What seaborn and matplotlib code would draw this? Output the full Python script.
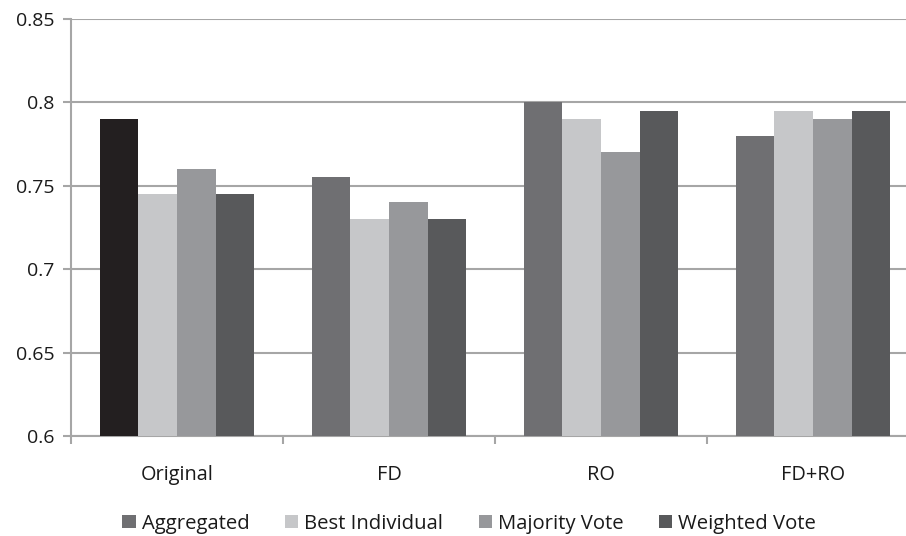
import matplotlib
matplotlib.use("Agg")
import matplotlib.pyplot as plt
from matplotlib.patches import Patch
import seaborn as sns
import pandas as pd

categories = ["Original", "FD", "RO", "FD+RO"]
series = ["Aggregated", "Best Individual", "Majority Vote", "Weighted Vote"]
aggregated = [0.79, 0.755, 0.80, 0.78]
best_individual = [0.745, 0.73, 0.79, 0.795]
majority_vote = [0.76, 0.74, 0.77, 0.79]
weighted_vote = [0.745, 0.73, 0.795, 0.795]
y_ticks = [0.6, 0.65, 0.7, 0.75, 0.8, 0.85]
y_tick_labels = ["0.6", "0.65", "0.7", "0.75", "0.8", "0.85"]

colors = ["#6f6f72", "#c6c7c9", "#97989b", "#58595b"]
highlight = "#231f20"

rows = []
for name, vals in zip(series, [aggregated, best_individual, majority_vote, weighted_vote]):
    for cat, v in zip(categories, vals):
        rows.append({"Method": cat, "Series": name, "Value": v})
df = pd.DataFrame(rows)

sns.set_theme(style="white")
plt.rcParams["font.family"] = ["Open Sans", "DejaVu Sans"]

fig = plt.figure(figsize=(9.06, 5.36), dpi=100)
W, H = 906, 536
left, right, top, bottom = 71, 919, 19, 436
ax = fig.add_axes([left / W, 1 - bottom / H, (right - left) / W, (bottom - top) / H])

sns.barplot(data=df, x="Method", y="Value", hue="Series", order=categories,
            hue_order=series, palette=colors, width=0.727, saturation=1,
            linewidth=0, ax=ax, legend=False, zorder=3)

# first Aggregated bar is drawn in a darker shade
ax.containers[0].patches[0].set_facecolor(highlight)

ax.set_ylim(0.6, 0.85)
ax.set_xlim(-0.5, 3.5)
ax.set_yticks(y_ticks)
ax.set_yticklabels(y_tick_labels)
ax.yaxis.grid(True, color="#a6a6a6", linewidth=1.5, zorder=0)
ax.set_axisbelow(True)
ax.set_xlabel("")
ax.set_ylabel("")

for s in ["top", "right"]:
    ax.spines[s].set_visible(False)
for s in ["left", "bottom"]:
    ax.spines[s].set_color("#a6a6a6")
    ax.spines[s].set_linewidth(1.5)

ax.set_xticks([0, 1, 2, 3])
ax.set_xticklabels(categories)
ax.set_xticks([-0.5, 0.5, 1.5, 2.5, 3.5], minor=True)
ax.tick_params(axis="x", which="major", length=0, pad=21, labelsize=14.3, labelcolor="#1a1a1a")
ax.tick_params(axis="x", which="minor", length=6, width=1.5, color="#a6a6a6", direction="out", bottom=True)
ax.tick_params(axis="y", length=6, width=1.5, color="#a6a6a6", direction="out", left=True,
               labelsize=14, labelcolor="#1a1a1a", pad=6)

handles = [Patch(facecolor=c, edgecolor="none") for c in colors]
fig.legend(handles, series, loc="lower center", bbox_to_anchor=(0.518, -0.03), ncol=4,
           frameon=False, fontsize=14.6, handlelength=0.65, handleheight=0.65,
           handletextpad=0.3, columnspacing=1.75, labelcolor="#1a1a1a")

fig.savefig("out.png", dpi=100)
